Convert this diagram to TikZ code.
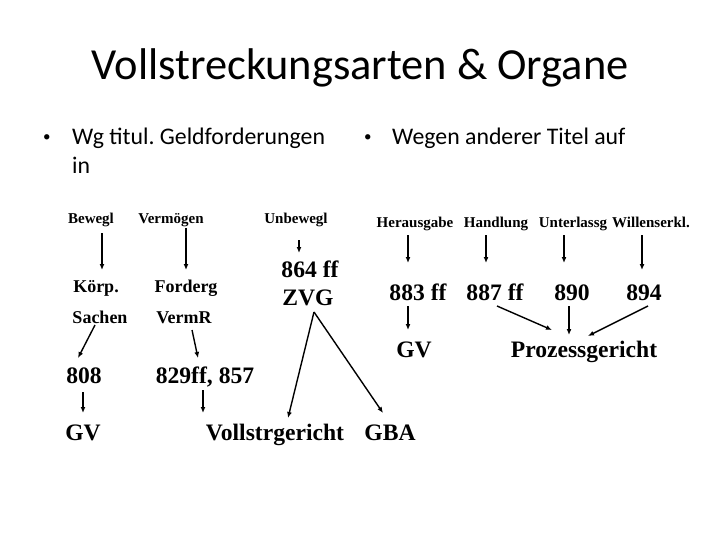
\documentclass[tikz,border=0pt]{standalone}
\usepackage{fontspec}
\setmainfont{Liberation Serif}
\newfontfamily\calfont{Carlito}
\usetikzlibrary{arrows.meta}
\begin{document}
\begin{tikzpicture}[x=1pt,y=-1pt,
  every node/.style={inner sep=0pt, anchor=base},
  ttl/.style={font=\calfont\fontsize{44.4}{44}\selectfont},
  bul/.style={anchor=base west, font=\calfont\fontsize{23.8}{24}\selectfont},
  dot/.style={anchor=base west, font=\calfont\fontsize{15}{15}\selectfont},
  sml/.style={font=\bfseries\fontsize{15}{15}\selectfont},
  mid/.style={font=\bfseries\fontsize{18}{18}\selectfont},
  big/.style={font=\bfseries\fontsize{23.6}{24}\selectfont},
  arr/.style={-{Latex[length=6pt,width=5pt]}, line width=1.4pt}]
\useasboundingbox (0,0) rectangle (720,540);
\frenchspacing
\node[ttl] (title) at (360,80) {Vollstreckungsarten \& Organe};
\node[dot] (b1) at (43,142) {•};
\node[bul] (t1) at (72,145) {Wg titul.\ Geldforderungen};
\node[bul] (t1b) at (72,174) {in};
\node[dot] (b2) at (364,142) {•};
\node[bul] (t2) at (392,145) {Wegen anderer Titel auf};
% left part
\node[sml] (bewegl) at (91,223) {Bewegl};
\node[sml] (verm) at (171,223) {Vermögen};
\node[sml] (unbew) at (296,223) {Unbewegl};
\node[mid] (koerp) at (96,292) {Körp.};
\node[mid] (forderg) at (186,292) {Forderg};
\node[mid] (sachen) at (100,323) {Sachen};
\node[mid] (vermr) at (184,323) {VermR};
\node[big] (z864) at (310,277) {864 ff};
\node[big] (zvg) at (308,305) {ZVG};
\node[big] (n808) at (84,383) {808};
\node[big] (n829) at (205,383) {829ff, 857};
\node[big] (gv1) at (83,440) {GV};
\node[big] (vollstr) at (275,440) {Vollstrgericht};
\node[big] (gba) at (390,440) {GBA};
\coordinate (apex) at ([shift={(6,7)}]zvg.base);
% right part
\node[sml] (heraus) at (415,228) {Herausgabe};
\node[sml] (handl) at (496,228) {Handlung};
\node[sml] (unterl) at (573,228) {Unterlassg};
\node[sml] (willen) at (651,228) {Willenserkl.};
\node[big] (n883) at (418,300) {883 ff};
\node[big] (n887) at (495,300) {887 ff};
\node[big] (n890) at (572,300) {890};
\node[big] (n894) at (644,300) {894};
\node[big] (gv2) at (414,357) {GV};
\node[big] (proz) at (584,357) {Prozessgericht};
% arrows left
\draw[arr] ([shift={(11,10)}]bewegl.base) -- ([shift={(6,-22)}]koerp.base);
\draw[arr] ([shift={(15,5)}]verm.base) -- ([shift={(0,-22)}]forderg.base);
\draw[arr] ([shift={(3,17)}]unbew.base) -- ([shift={(-11,-24)}]z864.base);
\draw[arr] ([shift={(-5,2)}]sachen.base) -- ([shift={(-6,-25)}]n808.base);
\draw[arr] ([shift={(8,7)}]vermr.base) -- ([shift={(-7,-25)}]n829.base);
\draw[arr] ([shift={(-1,9)}]n808.base) -- ([shift={(0,-27)}]gv1.base);
\draw[arr] ([shift={(-2,7)}]n829.base) -- ([shift={(-72,-27)}]vollstr.base);
\draw[arr] (apex) -- ([shift={(13,-22)}]vollstr.base);
\draw[arr] (apex) -- ([shift={(-7,-27)}]gba.base);
% arrows right
\draw[arr] ([shift={(-7,7)}]heraus.base) -- ([shift={(-10,-37)}]n883.base);
\draw[arr] ([shift={(-10,7)}]handl.base) -- ([shift={(-9,-37)}]n887.base);
\draw[arr] ([shift={(-9,7)}]unterl.base) -- ([shift={(-8,-37)}]n890.base);
\draw[arr] ([shift={(-9,7)}]willen.base) -- ([shift={(-2,-30)}]n894.base);
\draw[arr] ([shift={(-10,6)}]n883.base) -- ([shift={(-6,-27)}]gv2.base);
\draw[arr] ([shift={(2,6)}]n887.base) -- ([shift={(-32,-27)}]proz.base);
\draw[arr] ([shift={(-3,6)}]n890.base) -- ([shift={(-15,-22)}]proz.base);
\draw[arr] ([shift={(4,6)}]n894.base) -- ([shift={(4,-21)}]proz.base);
\end{tikzpicture}
\end{document}
